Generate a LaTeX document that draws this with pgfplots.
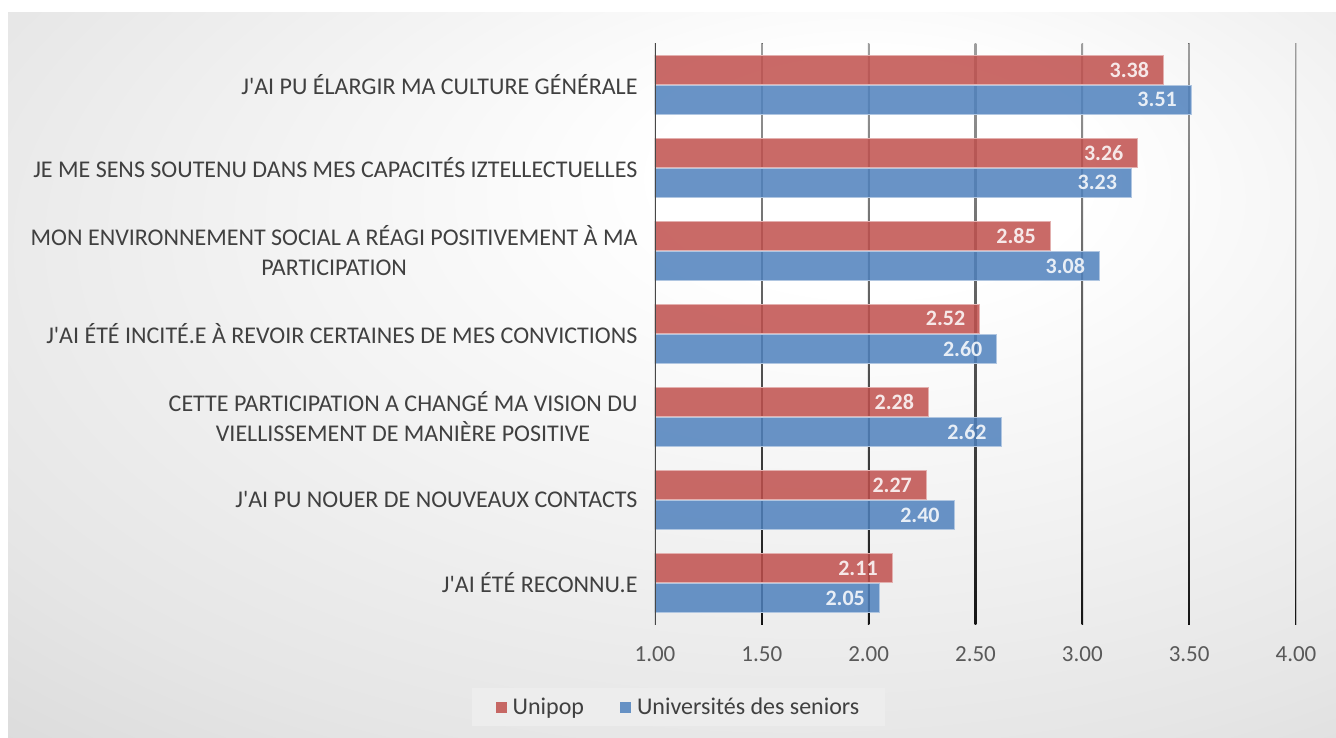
\documentclass[border=0pt]{standalone}
\usepackage{fontspec}
\setmainfont{Carlito}[Ligatures=TeXOff]
\usepackage{pgfplots}
\pgfplotsset{compat=1.18}
\definecolor{redbar}{RGB}{192,80,77}
\definecolor{bluebar}{RGB}{79,129,189}
\definecolor{labelgray}{RGB}{64,64,64}
\definecolor{tickgray}{RGB}{89,89,89}
\pgfdeclareradialshading{bgshade}{\pgfpoint{8.5bp}{15.5bp}}{color(0bp)=(white); color(8bp)=(white); color(35bp)=(black!10); color(53bp)=(black!19); color(70bp)=(black!19)}
\begin{document}
\begin{tikzpicture}[x=1pt,y=1pt]
\path[use as bounding box] (0,0) rectangle (1336,737);
\fill[white] (0,0) rectangle (1336,737);
\shade[shading=bgshade] (8,0) rectangle (1336,724);
\begin{axis}[
  at={(655pt,112.5pt)}, anchor=south west,
  scale only axis, width=641pt, height=581.5pt,
  xmin=1, xmax=4, ymin=-0.5, ymax=6.5,
  xbar, bar width=29pt,
  axis line style={draw=none},
  major tick length=0pt,
  xtick={1,1.5,2,2.5,3,3.5,4},
  xticklabel={\pgfmathprintnumber[fixed,fixed zerofill,precision=2,assume math mode=true]{\tick}},
  xticklabel style={font=\fontsize{23}{27}\selectfont, text=tickgray, yshift=-19pt},
  ytick={0,1,2,3,4,5,6},
  yticklabels={{J'AI ÉTÉ RECONNU.E},
               {J'AI PU NOUER DE NOUVEAUX CONTACTS},
               {CETTE PARTICIPATION A CHANGÉ MA VISION DU\\VIELLISSEMENT DE MANIÈRE POSITIVE},
               {J'AI ÉTÉ INCITÉ.E À REVOIR CERTAINES DE MES CONVICTIONS},
               {MON ENVIRONNEMENT SOCIAL A RÉAGI POSITIVEMENT À MA\\PARTICIPATION},
               {JE ME SENS SOUTENU DANS MES CAPACITÉS IZTELLECTUELLES},
               {J'AI PU ÉLARGIR MA CULTURE GÉNÉRALE}},
  yticklabel style={align=center, font=\fontsize{24}{30}\selectfont, text=labelgray, xshift=-14pt},
  nodes near coords={\pgfmathprintnumber[fixed,fixed zerofill,precision=2,assume math mode=true]{\pgfplotspointmeta}},
  nodes near coords style={font=\bfseries\fontsize{22}{26}\selectfont, text=white, anchor=east, inner sep=0pt, xshift=-14pt},
  legend style={at={(0.0367,-0.1419)}, anchor=center, draw=none, fill=black!7,
    font=\fontsize{24}{28}\selectfont, text=labelgray, legend columns=2,
    /tikz/every even column/.append style={column sep=34pt},
    inner xsep=24pt, inner ysep=8pt},
  legend cell align=left,
  legend image code/.code={\fill[#1,draw=none] (0pt,-5.5pt) rectangle (11pt,5.5pt); \path[draw=none,fill=none] (0pt,0pt) -- (15pt,0pt);},
]
\pgfplotsinvokeforeach{1.5,2,2.5,3,3.5,4}{
  \fill[top color=black!38, bottom color=black!92] ([xshift=-0.8pt]axis cs:#1,-0.5) rectangle ([xshift=0.8pt]axis cs:#1,6.5);
}
\addplot[fill=redbar, fill opacity=0.85, draw=redbar!45!white, line width=1pt, bar shift=15pt]
  coordinates {(2.11,0) (2.27,1) (2.28,2) (2.52,3) (2.85,4) (3.26,5) (3.38,6)};
\addplot[fill=bluebar, fill opacity=0.85, draw=bluebar!45!white, line width=1pt, bar shift=-15pt]
  coordinates {(2.05,0) (2.40,1) (2.62,2) (2.60,3) (3.08,4) (3.23,5) (3.51,6)};
\legend{Unipop, Universités des seniors}
\draw[line width=3pt, black!72] (axis cs:1,-0.5) -- (axis cs:1,6.5);
\end{axis}
\end{tikzpicture}
\end{document}
